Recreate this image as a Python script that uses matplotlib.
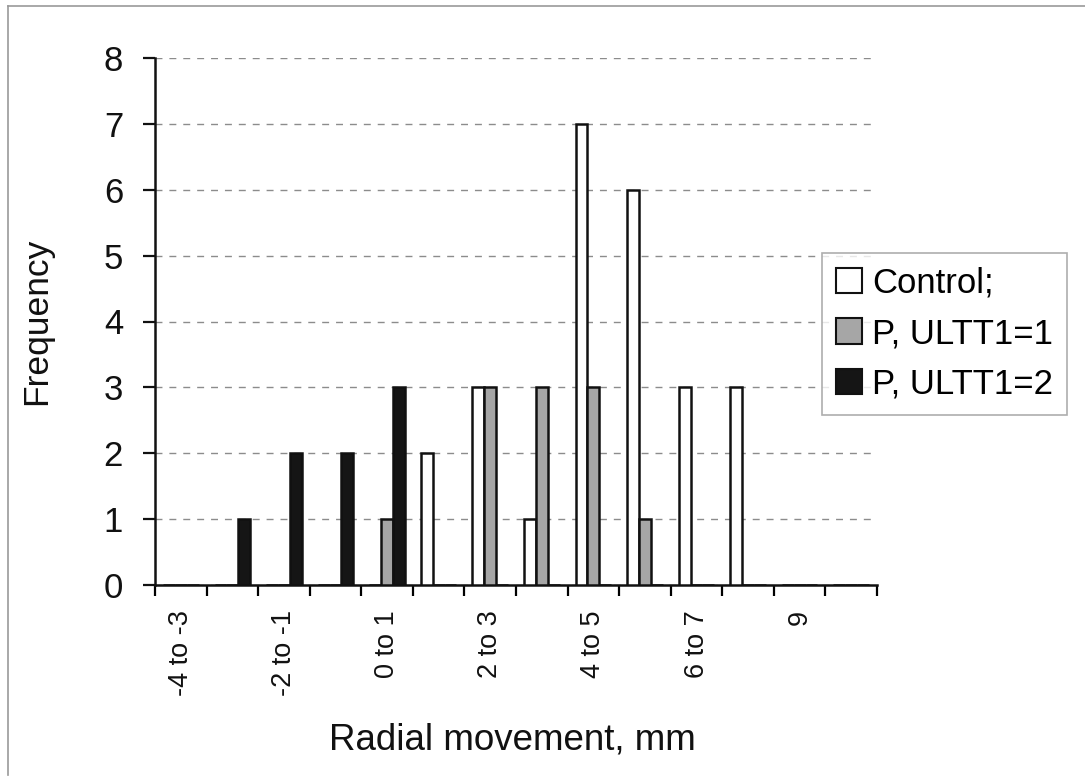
import numpy as np
import matplotlib
matplotlib.use("Agg")
import matplotlib.pyplot as plt
from matplotlib.patches import Patch
from matplotlib.lines import Line2D

plt.rcParams["font.family"] = ["Liberation Sans", "DejaVu Sans"]

# --- data --- #
bins = ["-4 to -3", "-3 to -2", "-2 to -1", "-1 to 0", "0 to 1", "1 to 2",
        "2 to 3", "3 to 4", "4 to 5", "5 to 6", "6 to 7", "7 to 8", "9", "More"]
shown_labels = ["-4 to -3", "-2 to -1", "0 to 1", "2 to 3", "4 to 5", "6 to 7", "9"]
control = [0, 0, 0, 0, 0, 2, 3, 1, 7, 6, 3, 3, 0, 0]
p_ultt1_1 = [0, 0, 0, 0, 1, 0, 3, 3, 3, 1, 0, 0, 0, 0]
p_ultt1_2 = [0, 1, 2, 2, 3, 0, 0, 0, 0, 0, 0, 0, 0, 0]

series = [
    ("Control;", control, "white"),
    ("P, ULTT1=1", p_ultt1_1, "#a6a6a6"),
    ("P, ULTT1=2", p_ultt1_2, "#151515"),
]

# --- plot --- #
fig = plt.figure(figsize=(10.85, 7.82), dpi=100)
ax = fig.add_axes([155 / 1085, 1 - 585 / 782, (877 - 155) / 1085, (585 - 58) / 782])

x = np.arange(len(bins))
bw = 0.23
for i, (name, vals, col) in enumerate(series):
    ax.bar(x + (i - 1) * bw, vals, width=bw, color=col, edgecolor="#111111",
           linewidth=1.8, zorder=3)

ax.set_xlim(-0.5, len(bins) - 0.5)
ax.set_ylim(0, 8)

# gridlines
ax.set_yticks(range(0, 9))
ax.yaxis.grid(True, linestyle=(0, (5, 5)), color="#8c8c8c", linewidth=1.0, zorder=0)
ax.tick_params(axis="y", direction="out", length=9, width=1.6, pad=14,
               labelsize=25, colors="#111111")

# x ticks on bin boundaries, labels on every other bin centre
ax.set_xticks(np.arange(len(bins) + 1) - 0.5)
ax.set_xticklabels([])
ax.tick_params(axis="x", which="major", direction="out", length=8, width=1.6)
label_pos = [bins.index(b) for b in shown_labels]
ax.set_xticks(label_pos, minor=True)
ax.set_xticklabels(shown_labels, minor=True, rotation=90, va="top", ha="center")
ax.tick_params(axis="x", which="minor", length=0, pad=18, labelsize=19.5,
               colors="#111111")

for s in ["top", "right"]:
    ax.spines[s].set_visible(False)
for s in ["left", "bottom"]:
    ax.spines[s].set_linewidth(1.8)
    ax.spines[s].set_color("#111111")

fig.text(37 / 1085, 1 - 321 / 782, "Frequency", rotation=90, ha="center",
         va="center", fontsize=25.5, color="#111111")
fig.text(512 / 1085, 1 - 740 / 782, "Radial movement, mm", ha="center",
         va="center", fontsize=26.5, color="#111111")

handles = [Patch(facecolor=c, edgecolor="#111111", linewidth=1.5) for _, _, c in series]
leg = fig.legend(handles, [n for n, _, _ in series], loc="upper left",
                 bbox_to_anchor=(822 / 1085, 1 - 253 / 782), fontsize=25,
                 frameon=True, fancybox=False, handlelength=0.75, handleheight=0.75,
                 handletextpad=0.3, borderpad=0.4, labelspacing=0.5,
                 borderaxespad=0)
leg.get_frame().set_edgecolor("#9a9a9a")
leg.get_frame().set_linewidth(1.2)

# outer chart border (only top and left visible in the reference)
fig.add_artist(Line2D([8 / 1085, 1], [1 - 6 / 782, 1 - 6 / 782],
                      transform=fig.transFigure, color="#999999", linewidth=1.2))
fig.add_artist(Line2D([8 / 1085, 8 / 1085], [1 - 6 / 782, 1 - 775 / 782],
                      transform=fig.transFigure, color="#999999", linewidth=1.2))

fig.savefig("out.png", dpi=100, facecolor="white")
